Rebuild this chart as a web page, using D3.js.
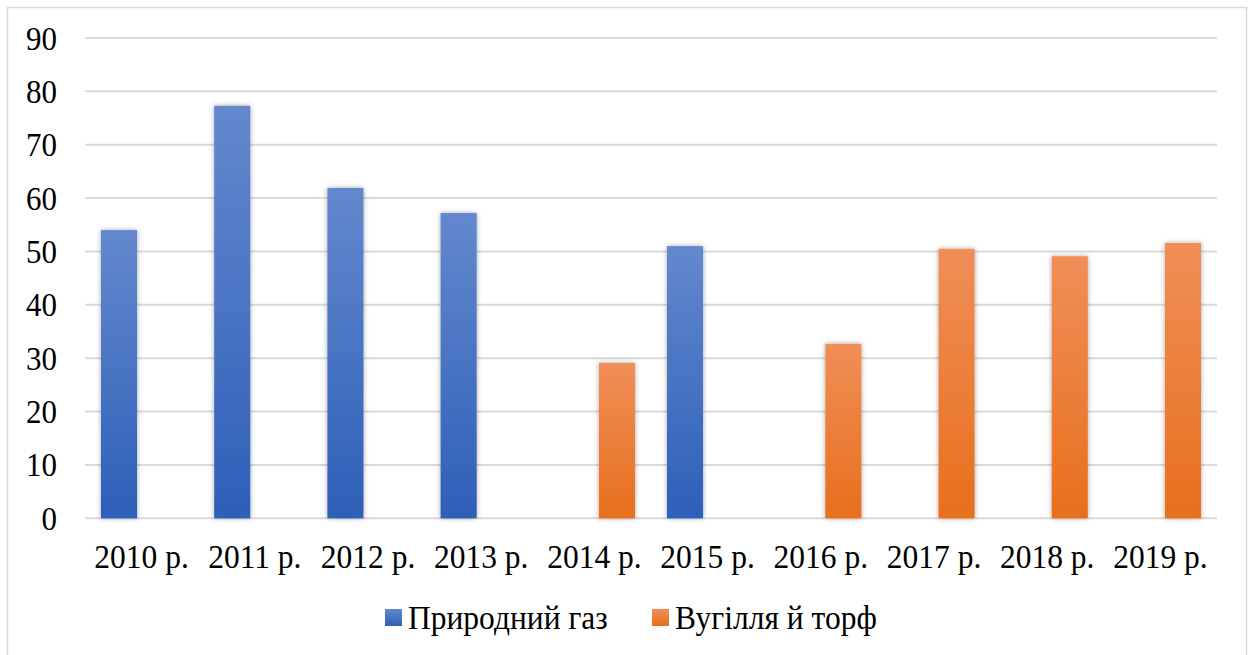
<!DOCTYPE html>
<html>
<head>
<meta charset="utf-8">
<script src="https://cdn.jsdelivr.net/npm/d3@7"></script>
<style>
  body { margin: 0; background: #fff; }
  text { font-family: 'Liberation Serif', 'Times New Roman', serif; fill: #000; }
</style>
</head>
<body>
<svg id="chart" width="1248" height="655"></svg>
<script>
const years = ['2010 р.', '2011 р.', '2012 р.', '2013 р.', '2014 р.', '2015 р.', '2016 р.', '2017 р.', '2018 р.', '2019 р.']
const seriesNames = ['Природний газ', 'Вугілля й торф']
const gas = [54.0, 77.3, 61.9, 57.2, 0, 51.0, 0, 0, 0, 0]
const coal = [0, 0, 0, 0, 29.1, 0, 32.7, 50.5, 49.1, 51.6]
const yTicks = [0, 10, 20, 30, 40, 50, 60, 70, 80, 90]

const svg = d3.select('#chart')
const plot = { left: 85, right: 1217, top: 38, bottom: 518.3 }
const stretch = 'scale(1,1.1)' // source text is a bit taller than wide

// gradients + shadow
const defs = svg.append('defs')
const grads = [
  { id: 'g0', top: '#6388cd', bottom: '#2e5fb8' },
  { id: 'g1', top: '#f08e58', bottom: '#e86f1c' }
]
grads.forEach(g => {
  const lg = defs.append('linearGradient').attr('id', g.id)
    .attr('x1', 0).attr('y1', 0).attr('x2', 0).attr('y2', 1)
  lg.append('stop').attr('offset', '0%').attr('stop-color', g.top)
  lg.append('stop').attr('offset', '100%').attr('stop-color', g.bottom)
})
const f = defs.append('filter').attr('id', 'shadow')
  .attr('x', '-30%').attr('y', '-10%').attr('width', '160%').attr('height', '120%')
f.append('feDropShadow').attr('dx', 0).attr('dy', 0).attr('stdDeviation', 2.5)
  .attr('flood-color', '#000').attr('flood-opacity', 0.35)

// outer border (no bottom edge visible)
svg.append('path')
  .attr('d', 'M7.5,655 V7.5 H1246.5 V655')
  .attr('fill', 'none').attr('stroke', '#d9d9d9').attr('stroke-width', 1.5)

const y = d3.scaleLinear().domain([0, 90]).range([plot.bottom, plot.top])
const x0 = d3.scaleBand().domain(years).range([plot.left, plot.right]).padding(0)
const x1 = d3.scaleBand().domain(seriesNames)
  .range([16, x0.bandwidth() - 16]).paddingInner(0.2).paddingOuter(0)

// gridlines
svg.append('g').selectAll('line').data(yTicks).enter().append('line')
  .attr('x1', plot.left).attr('x2', plot.right)
  .attr('y1', d => y(d)).attr('y2', d => y(d))
  .attr('stroke', '#d9d9d9').attr('stroke-width', 2)

// y labels
svg.append('g').selectAll('text').data(yTicks).enter().append('text')
  .attr('transform', d => `translate(57,${y(d) + 11.5}) ${stretch}`)
  .attr('text-anchor', 'end')
  .attr('font-size', 31)
  .text(d => d)

// bars
const rows = years.map((yr, i) => ({ year: yr, values: [gas[i], coal[i]] }))
svg.append('g').selectAll('g').data(rows).enter().append('g')
  .attr('transform', d => `translate(${x0(d.year)},0)`)
  .selectAll('rect')
  .data(d => d.values.map((v, j) => ({ key: seriesNames[j], v, j })).filter(e => e.v > 0))
  .enter().append('rect')
  .attr('x', d => x1(d.key))
  .attr('width', x1.bandwidth())
  .attr('y', d => y(d.v))
  .attr('height', d => y(0) - y(d.v))
  .attr('fill', d => `url(#g${d.j})`)
  .attr('filter', 'url(#shadow)')

// x labels
svg.append('g').selectAll('text').data(years).enter().append('text')
  .attr('transform', d => `translate(${x0(d) + x0.bandwidth() / 2},568) ${stretch}`)
  .attr('text-anchor', 'middle')
  .attr('font-size', 31.5)
  .text(d => d)

// legend
const legendX = [385, 652]
const legend = svg.append('g').selectAll('g').data(seriesNames).enter().append('g')
  .attr('transform', (d, i) => `translate(${legendX[i]},0)`)
legend.append('rect')
  .attr('x', 0).attr('y', 609).attr('width', 17).attr('height', 17)
  .attr('fill', (d, i) => `url(#g${i})`)
legend.append('text')
  .attr('transform', `translate(23,629) ${stretch}`)
  .attr('font-size', 31.5)
  .text(d => d)
</script>
</body>
</html>
